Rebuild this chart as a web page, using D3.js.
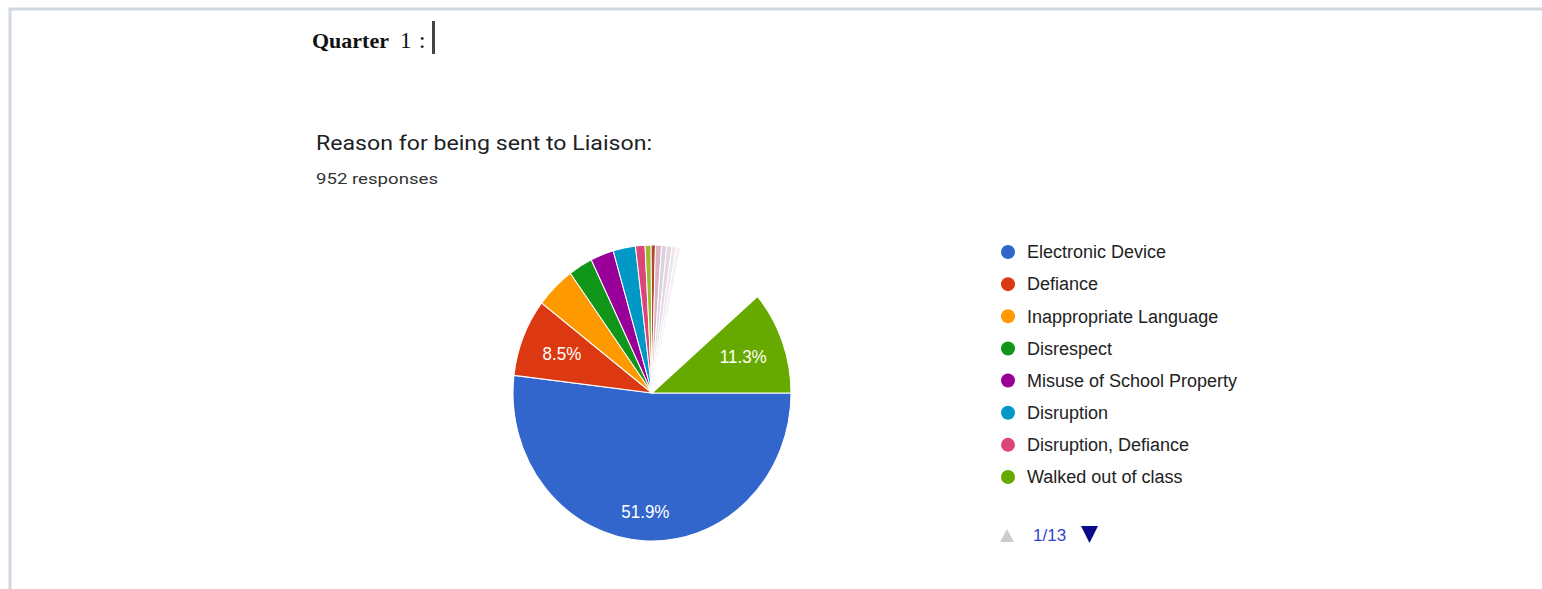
<!DOCTYPE html>
<html>
<head>
<meta charset="utf-8">
<script src="https://cdn.jsdelivr.net/npm/d3@7"></script>
<style>
  body { margin: 0; background: #fff; }
  svg { display: block; }
</style>
</head>
<body>
<svg id="chart" width="1542" height="589"></svg>
<script>
// Categories shown on the first legend page and their share of responses (%)
const legendNames = [
  "Electronic Device",
  "Defiance",
  "Inappropriate Language",
  "Disrespect",
  "Misuse of School Property",
  "Disruption",
  "Disruption, Defiance",
  "Walked out of class"
];
const legendValues = [51.9, 8.5, 4.6, 2.8, 2.7, 2.6, 1.1, 11.3];
const legendColors = ["#3366cc", "#dc3912", "#ff9900", "#109618", "#990099", "#0099c6", "#dd4477", "#66aa00"];

// Small categories from the later legend pages (%)
const laterValues = [0.7, 0.5, 0.7, 0.6, 0.6, 0.5, 0.5];
const laterColors = ["#9cb934", "#b8432e", "#dcb3c3", "#d8d2e2", "#e6d6e4", "#eee6ec", "#f4f0f4"];

// Remaining categories, left blank in the pie (%)
const restValue = 10.4;

const pageTitle = ["Quarter", "1", ":"];
const chartTitle = "Reason for being sent to Liaison:";
const responseCount = 952;
const pageLabel = "1/13";

const svg = d3.select("#chart");

// page frame
svg.append("line").attr("x1", 9).attr("x2", 1542).attr("y1", 9).attr("y2", 9)
  .attr("stroke", "#cfd7df").attr("stroke-width", 3);
svg.append("line").attr("x1", 10).attr("x2", 10).attr("y1", 8).attr("y2", 589)
  .attr("stroke", "#cfd7df").attr("stroke-width", 3);

// document heading with text cursor
const head = svg.append("text").attr("x", 312).attr("y", 48)
  .attr("font-family", "'Liberation Serif', 'Times New Roman', serif")
  .attr("font-size", 22).attr("fill", "#111");
head.append("tspan").attr("font-weight", "bold").text(pageTitle[0]);
head.append("tspan").attr("x", 400).attr("font-size", 23).text(pageTitle[1]);
head.append("tspan").attr("x", 419).attr("font-size", 23).text(pageTitle[2]);
svg.append("rect").attr("x", 432).attr("y", 21).attr("width", 3).attr("height", 33).attr("fill", "#444");

// chart title and response count
svg.append("text").attr("x", 316).attr("y", 150)
  .attr("font-family", "Roboto, 'Open Sans', sans-serif")
  .attr("font-size", 20).attr("fill", "#202124")
  .attr("textLength", 336).attr("lengthAdjust", "spacingAndGlyphs")
  .text(chartTitle);
svg.append("text").attr("x", 316).attr("y", 184)
  .attr("font-family", "Roboto, 'Open Sans', sans-serif")
  .attr("font-size", 15).attr("fill", "#333")
  .attr("textLength", 122).attr("lengthAdjust", "spacingAndGlyphs")
  .text(responseCount + " responses");

// pie slices in drawing order: first seven legend entries, later-page entries,
// the blank remainder, then "Walked out of class"
const slices = [];
for (let i = 0; i < 7; i++) slices.push({ value: legendValues[i], color: legendColors[i] });
laterValues.forEach((v, i) => slices.push({ value: v, color: laterColors[i] }));
slices.push({ value: restValue, color: "none", blank: true });
slices.push({ value: legendValues[7], color: legendColors[7] });

const R = 139;
const pie = d3.pie().value(d => d.value).sort(null)
  .startAngle(Math.PI / 2).endAngle(Math.PI / 2 + 2 * Math.PI);
const arc = d3.arc().innerRadius(0).outerRadius(R);

const g = svg.append("g").attr("transform", "translate(652,393) scale(1,1.065)");
const arcs = pie(slices);

g.selectAll("path.slice").data(arcs).join("path")
  .attr("class", "slice")
  .attr("d", arc)
  .attr("fill", d => d.data.blank ? "none" : d.data.color)
  .attr("stroke", d => d.data.blank ? "none" : "#fff")
  .attr("stroke-width", 1);

const fmt = d3.format(".1f");
g.selectAll("text.pct").data(arcs.filter(d => d.data.value >= 5)).join("text")
  .attr("class", "pct")
  .attr("transform", d => {
    const rl = d.data.value > 40 ? R * 0.8 : R * 0.7;
    const c = d3.arc().innerRadius(rl).outerRadius(rl).centroid(d);
    return `translate(${c[0]},${c[1]})`;
  })
  .attr("text-anchor", "middle")
  .attr("dy", "0.35em")
  .attr("font-family", "Arial, 'Liberation Sans', sans-serif")
  .attr("font-size", 17)
  .attr("fill", "#fff")
  .text(d => fmt(d.data.value) + "%");

// legend
const y = d3.scaleLinear().domain([0, 7]).range([252, 477]);
const leg = svg.append("g");
const rows = leg.selectAll("g").data(legendNames).join("g")
  .attr("transform", (d, i) => `translate(1008,${y(i)})`);
rows.append("circle").attr("r", 7).attr("fill", (d, i) => legendColors[i]);
rows.append("text").attr("x", 19).attr("dy", "0.35em")
  .attr("font-family", "Arial, 'Liberation Sans', sans-serif")
  .attr("font-size", 18).attr("fill", "#222")
  .text(d => d);

// legend pager
svg.append("path").attr("d", "M1000,542 L1007,529 L1014,542 Z").attr("fill", "#cccccc");
svg.append("text").attr("x", 1033).attr("y", 541)
  .attr("font-family", "Arial, 'Liberation Sans', sans-serif")
  .attr("font-size", 17).attr("fill", "#3344cc")
  .text(pageLabel);
svg.append("path").attr("d", "M1081,526 L1098,526 L1089.5,543 Z").attr("fill", "#0a0a8a");
</script>
</body>
</html>
